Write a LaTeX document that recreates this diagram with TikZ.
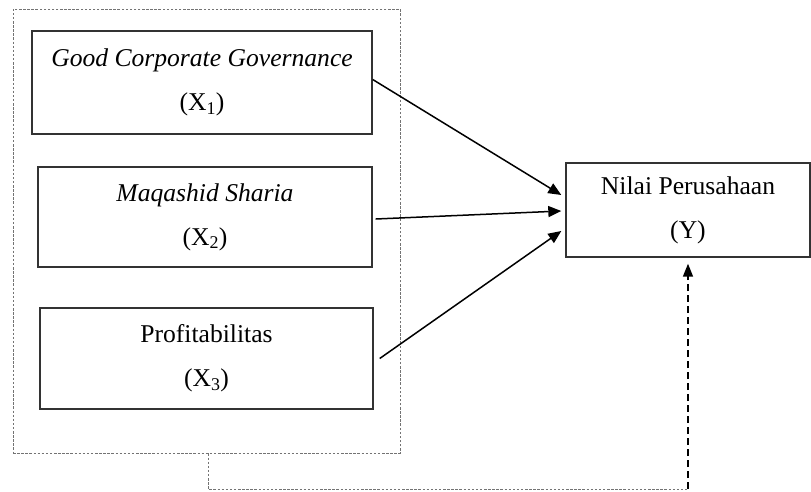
\documentclass[tikz,border=0pt]{standalone}
\usepackage{fontspec}
\setmainfont{Liberation Serif}
\usetikzlibrary{arrows.meta,calc}
\begin{document}
\begin{tikzpicture}[x=1pt,y=-1pt,
  varbox/.style={draw=black!80,line width=1.4pt,inner sep=0pt,align=center,
    font=\fontsize{25.6}{44}\selectfont},
  grpbox/.style={draw=black!55,line width=0.9pt,dash pattern=on 2.5pt off 1.6pt},
  link/.style={line width=1.5pt,-{Triangle[length=13pt,width=11pt]}},
  grayline/.style={draw=black!55,line width=0.9pt,dash pattern=on 2.5pt off 1.6pt},
  blackdash/.style={line width=1.6pt,dash pattern=on 7pt off 4pt,-{Triangle[length=13pt,width=10pt]}}]
\useasboundingbox (0,0) rectangle (811,491);
\node[grpbox,minimum width=387pt,minimum height=444pt,inner sep=0pt] (grp) at (206.5,231) {};
\node[varbox,minimum width=340pt,minimum height=103pt] (b1) at (202,82.5)
  {\textit{Good Corporate Governance}\\(X\textsubscript{1})};
\node[varbox,minimum width=334pt,minimum height=100pt] (b2) at (205,217)
  {\textit{Maqashid Sharia}\\(X\textsubscript{2})};
\node[varbox,minimum width=333pt,minimum height=101pt] (b3) at (206.5,358.5)
  {Profitabilitas\\(X\textsubscript{3})};
\node[varbox,minimum width=244pt,minimum height=94pt] (Y) at (688,210)
  {Nilai Perusahaan\\(Y)};
\draw[link] ($(b1.east)+(0,-3)$) -- ($(Y.west)+(-4,-15)$);
\draw[link] ($(b2.east)+(3,2)$) -- ($(Y.west)+(-4,1)$);
\draw[link] ($(b3.east)+(6,0)$) -- ($(Y.west)+(-4,21)$);
\coordinate (c1) at (208,489);
\coordinate (c2) at (Y.south |- c1);
\draw[grayline] (grp.south -| c1) -- (c1) -- (c2);
\draw[blackdash] (c2) -- ($(Y.south)+(0,6)$);
\end{tikzpicture}
\end{document}
